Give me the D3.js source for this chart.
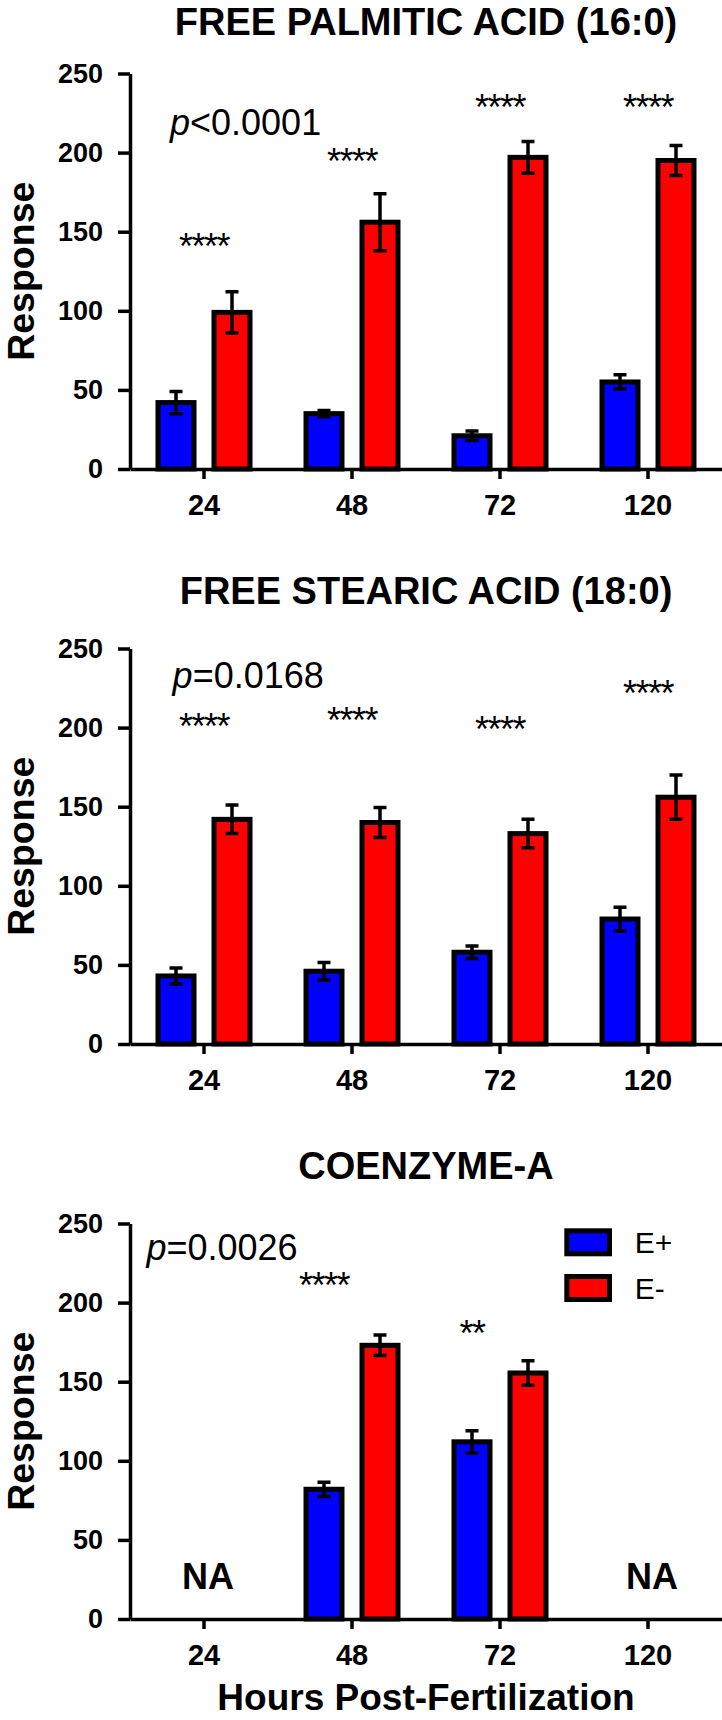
<!DOCTYPE html>
<html>
<head>
<meta charset="utf-8">
<script src="https://cdn.jsdelivr.net/npm/d3@7"></script>
<style>
  body { margin: 0; background: #fff; }
  svg { display: block; }
</style>
</head>
<body>
<div id="chart"></div>
<script>
// three stacked bar panels: E+ vs E- over hours post-fertilization

// ---- data ----
const hours = ["24", "48", "72", "120"]
const seriesNames = ["E+", "E-"]
const seriesColors = ["#0000ff", "#ff0000"]
const titles = ["FREE PALMITIC ACID (16:0)", "FREE STEARIC ACID (18:0)", "COENZYME-A"]
const pLabels = [["<", "0.0001"], ["=", "0.0168"], ["=", "0.0026"]]
const yTicks = [0, 50, 100, 150, 200, 250]

// free palmitic acid
const palmiticPlus = [42, 35, 21, 55]
const palmiticPlusErr = [7, 2, 3, 4.5]
const palmiticMinus = [99, 156, 197, 195]
const palmiticMinusErr = [13, 18, 10, 9.5]
const palmiticStars = [["24", "****", 145], ["48", "****", 199], ["72", "****", 233], ["120", "****", 233]]

// free stearic acid
const stearicPlus = [43, 46, 58, 79]
const stearicPlusErr = [5, 5.5, 4, 7.5]
const stearicMinus = [142, 140, 133, 156]
const stearicMinusErr = [9, 9.5, 9, 14]
const stearicStars = [["24", "****", 205], ["48", "****", 209], ["72", "****", 203], ["120", "****", 226]]

// coenzyme-A (not measured at 24 and 120)
const coaPlus = [null, 82, 112, null]
const coaPlusErr = [null, 4.5, 7, null]
const coaMinus = [null, 173, 155.5, null]
const coaMinusErr = [null, 6.5, 7.7, null]
const coaStars = [["48", "****", 215, "E+"], ["72", "**", 185, "E+"]]
const coaMissing = ["24", "120"]
const missingLevel = 19

const panels = [
  { plus: palmiticPlus, plusErr: palmiticPlusErr, minus: palmiticMinus, minusErr: palmiticMinusErr, stars: palmiticStars, missing: [] },
  { plus: stearicPlus, plusErr: stearicPlusErr, minus: stearicMinus, minusErr: stearicMinusErr, stars: stearicStars, missing: [] },
  { plus: coaPlus, plusErr: coaPlusErr, minus: coaMinus, minusErr: coaMinusErr, stars: coaStars, missing: coaMissing }
]

// ---- layout ----
const width = 722
const height = 1720
const marginLeft = 130
const panelBase = [469, 1044, 1619]   // y of value 0 in each panel
const plotH = 395.5
const barW = 36
const barOff = 28
const barStroke = 5
const capW = 13
const pPos = [{ x: 170, dy: 61.5 }, { x: 172.6, dy: 39 }, { x: 146.4, dy: 36.5 }]
const font = "'Liberation Sans', Arial, Helvetica, sans-serif"
const starSize = 36

const svg = d3.select("#chart")
  .append("svg")
  .attr("width", width)
  .attr("height", height)
  .attr("viewBox", [0, 0, width, height])
  .style("font-family", font)

const x = d3.scaleBand().domain(hours).range([marginLeft, width])
const cx = h => x(h) + x.bandwidth() / 2

panels.forEach((p, i) => {
  const y = d3.scaleLinear([0, 250], [panelBase[i], panelBase[i] - plotH])
  const g = svg.append("g")

  // bars
  const bars = []
  hours.forEach((h, j) => {
    if (p.plus[j] != null) bars.push({ h, s: 0, v: p.plus[j], e: p.plusErr[j] })
    if (p.minus[j] != null) bars.push({ h, s: 1, v: p.minus[j], e: p.minusErr[j] })
  })
  const bx = d => cx(d.h) + (d.s ? barOff : -barOff)

  g.append("g")
    .selectAll("rect")
    .data(bars)
    .join("rect")
    .attr("x", d => bx(d) - barW / 2)
    .attr("y", d => y(d.v))
    .attr("width", barW)
    .attr("height", d => y(0) - y(d.v))
    .attr("fill", d => seriesColors[d.s])
    .attr("stroke", "#000")
    .attr("stroke-width", barStroke)

  // error bars
  g.append("g")
    .attr("stroke", "#000")
    .attr("stroke-width", 3.5)
    .attr("fill", "none")
    .selectAll("path")
    .data(bars)
    .join("path")
    .attr("d", d => {
      const x0 = bx(d), y1 = y(d.v + d.e), y2 = y(d.v - d.e)
      return `M${x0},${y1}V${y2}M${x0 - capW / 2},${y1}H${x0 + capW / 2}M${x0 - capW / 2},${y2}H${x0 + capW / 2}`
    })

  // y axis
  g.append("g")
    .attr("transform", `translate(${marginLeft},0)`)
    .call(d3.axisLeft(y).tickValues(yTicks).tickSize(12).tickSizeOuter(0).tickPadding(15))
    .call(a => a.selectAll("path, line").attr("stroke", "#000").attr("stroke-width", 3.5))
    .call(a => a.selectAll("text")
      .attr("font-family", font)
      .attr("font-size", 27)
      .attr("font-weight", "bold")
      .attr("fill", "#000"))

  // x axis
  g.append("g")
    .attr("transform", `translate(0,${y(0)})`)
    .call(d3.axisBottom(x).tickSize(10).tickSizeOuter(0).tickPadding(15))
    .call(a => a.selectAll("path, line").attr("stroke", "#000").attr("stroke-width", 3.5))
    .call(a => a.selectAll("text")
      .attr("font-family", font)
      .attr("font-size", 29)
      .attr("font-weight", "bold")
      .attr("fill", "#000"))

  // panel title
  g.append("text")
    .attr("x", (marginLeft + width) / 2)
    .attr("y", Math.max(y(250) - 45, 35))
    .attr("text-anchor", "middle")
    .attr("font-size", 38)
    .attr("font-weight", "bold")
    .text(titles[i])

  // y title
  g.append("text")
    .attr("transform", `translate(34,${(y(0) + y(250)) / 2}) rotate(-90)`)
    .attr("text-anchor", "middle")
    .attr("font-size", 37.5)
    .attr("font-weight", "bold")
    .text("Response")

  // p value
  const pt = g.append("text")
    .attr("x", pPos[i].x)
    .attr("y", y(250) + pPos[i].dy)
    .attr("font-size", 36)
  pt.append("tspan").attr("font-style", "italic").text("p")
  pt.append("tspan").text(pLabels[i].join(""))

  // significance stars
  g.append("g")
    .selectAll("text")
    .data(p.stars)
    .join("text")
    .attr("x", d => d[3] === "E+" ? cx(d[0]) - barOff : cx(d[0]))
    .attr("y", d => y(d[2]) + starSize * 0.54)
    .attr("text-anchor", "middle")
    .attr("font-size", starSize)
    .attr("letter-spacing", -1.5)
    .text(d => d[1])

  // not available
  g.append("g")
    .selectAll("text")
    .data(p.missing)
    .join("text")
    .attr("x", d => cx(d) + 4)
    .attr("y", y(missingLevel))
    .attr("text-anchor", "middle")
    .attr("font-size", 36)
    .attr("font-weight", "bold")
    .text("NA")

  // legend in last panel
  if (i === panels.length - 1) {
    const lg = g.append("g")
      .selectAll("g")
      .data(seriesNames)
      .join("g")
      .attr("transform", (d, k) => `translate(566.8,${y(250) + 7.3 + k * 45.7})`)
    lg.append("rect")
      .attr("width", 42.7)
      .attr("height", 23)
      .attr("fill", (d, k) => seriesColors[k])
      .attr("stroke", "#000")
      .attr("stroke-width", barStroke)
    lg.append("text")
      .attr("x", 68)
      .attr("y", 22)
      .attr("font-size", 30)
      .text(d => d)
  }
})

// shared x title
svg.append("text")
  .attr("x", (marginLeft + width) / 2)
  .attr("y", 1710)
  .attr("text-anchor", "middle")
  .attr("font-size", 37)
  .attr("font-weight", "bold")
  .text("Hours Post-Fertilization")
</script>
</body>
</html>
